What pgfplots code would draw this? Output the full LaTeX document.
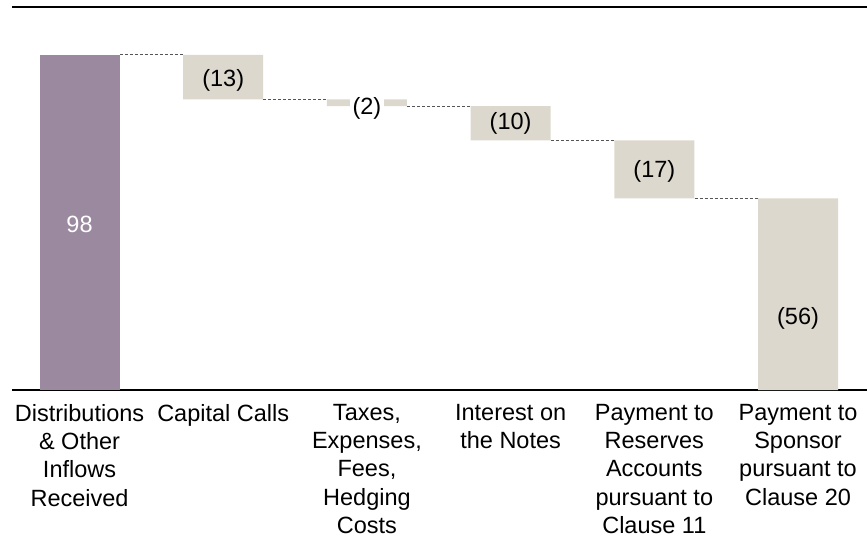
\documentclass[border=0pt]{standalone}
\usepackage{pgfplots}
\pgfplotsset{compat=1.18}
\usepackage{fontspec}
\setmainfont{Liberation Sans}
\definecolor{barpurple}{RGB}{155,137,160}
\definecolor{barbeige}{RGB}{221,216,205}
\definecolor{conn}{RGB}{85,85,85}
\tikzset{lbl/.style={font=\fontsize{23.5bp}{28bp}\selectfont, inner sep=1pt}}
\begin{document}
\begin{tikzpicture}
\pgfplotsset{
  common/.style={
    width=855bp, height=383bp, scale only axis,
    xmin=-0.47, xmax=5.48, ymin=0, ymax=112,
    clip=false,
  },
}
\begin{axis}[common,
  ybar stacked, bar width=80bp,
  axis x line=box, axis y line=none,
  axis line style={line width=2.8bp, black},
  xtick={0,1,2,3,4,5}, major tick length=0pt,
  xticklabels={{Distributions\\\& Other\\Inflows\\Received},
               {Capital Calls},
               {Taxes,\\Expenses,\\Fees,\\Hedging\\Costs},
               {Interest on\\the Notes},
               {Payment to\\Reserves\\Accounts\\pursuant to\\Clause 11},
               {Payment to\\Sponsor\\pursuant to\\Clause 20}},
  xticklabel style={align=center, anchor=north, font=\fontsize{23.5bp}{28.3bp}\selectfont, inner sep=0pt, yshift=-14bp},
  ytick=\empty,
]
% invisible base
\addplot[draw=none, fill=none] coordinates {(0,0) (1,85) (2,83) (3,73) (4,56) (5,0)};
% starting value
\addplot[draw=none, fill=barpurple] coordinates {(0,98) (1,0) (2,0) (3,0) (4,0) (5,0)};
% decreases
\addplot[draw=none, fill=barbeige] coordinates {(0,0) (1,13) (2,2) (3,10) (4,17) (5,56)};
\end{axis}
\begin{axis}[common, hide axis]
\addplot[conn, line width=0.9bp, dash pattern=on 3bp off 2bp] coordinates {(0.28,98) (0.72,98)};
\addplot[conn, line width=0.9bp, dash pattern=on 3bp off 2bp] coordinates {(1.28,85) (1.72,85)};
\addplot[conn, line width=0.9bp, dash pattern=on 3bp off 2bp] coordinates {(2.28,83) (2.72,83)};
\addplot[conn, line width=0.9bp, dash pattern=on 3bp off 2bp] coordinates {(3.28,73) (3.72,73)};
\addplot[conn, line width=0.9bp, dash pattern=on 3bp off 2bp] coordinates {(4.28,56) (4.72,56)};
\node[lbl, text=white] at (axis cs:0,48.3) {98};
\node[lbl] at (axis cs:1,90.6) {(13)};
\node[lbl, fill=white, inner sep=2.5bp] at (axis cs:2,82.2) {(2)};
\node[lbl] at (axis cs:3,78.1) {(10)};
\node[lbl] at (axis cs:4,63.8) {(17)};
\node[lbl] at (axis cs:5,21) {(56)};
\end{axis}
\pgfresetboundingbox
\path[use as bounding box] (-12bp,-158bp) rectangle (855bp,390bp);
\end{tikzpicture}
\end{document}
